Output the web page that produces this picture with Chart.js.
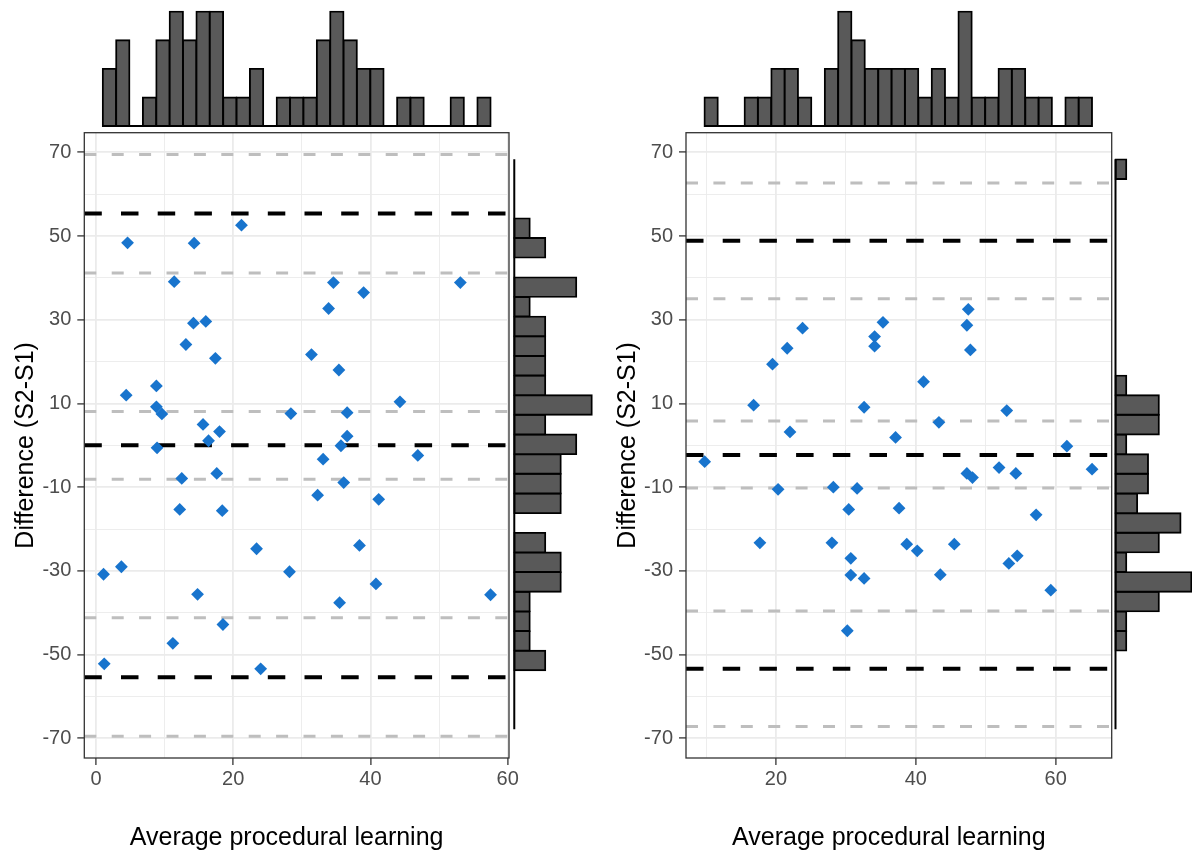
<!DOCTYPE html>
<html lang="en">
<head>
<meta charset="UTF-8">
<title>Bland-Altman: procedural learning</title>
<script src="https://cdn.jsdelivr.net/npm/chart.js"></script>
<style>
  html, body { margin: 0; padding: 0; background: #fff; overflow: hidden; }
  #wrap { position: relative; width: 1192px; height: 854px; }
  #wrap canvas { position: absolute; left: 0; top: 0; }
</style>
</head>
<body>
<div id="wrap">
  <canvas id="leftTop" width="1192" height="854"></canvas>
  <canvas id="leftSide" width="1192" height="854"></canvas>
  <canvas id="leftMain" width="1192" height="854"></canvas>
  <canvas id="rightTop" width="1192" height="854"></canvas>
  <canvas id="rightSide" width="1192" height="854"></canvas>
  <canvas id="rightMain" width="1192" height="854"></canvas>
</div>
<script>
// ---- left panel ----
const leftAvg = [4.6, 14.3, 21.2, 11.4, 14.2, 16.0, 13.1, 17.4, 4.4, 8.8, 8.8, 9.6, 15.6, 18.0, 16.4,
  8.9, 28.4, 31.4, 33.9, 34.6, 35.4, 36.6, 36.6, 35.7, 39.0, 53.1, 44.3, 33.1, 46.9, 36.1,
  32.3, 41.2, 38.4, 40.8, 35.5, 57.5, 12.5, 17.6, 12.2, 18.4, 23.4, 1.1, 3.7, 14.8, 28.2,
  18.5, 11.2, 1.2, 24.0];
const leftDiff = [48.4, 48.3, 52.6, 39.1, 29.2, 29.6, 24.1, 20.8, 12.0, 14.2, 9.2, 7.5, 5.0, 3.3, 1.1,
  -0.6, 7.6, 21.7, 32.7, 38.9, 18.0, 7.8, 2.2, -0.1, 36.5, 38.9, 10.4, -3.3, -2.4, -8.9,
  -11.9, -12.9, -23.9, -33.1, -37.6, -35.7, -7.9, -6.7, -15.3, -15.6, -24.7, -30.8, -29.0, -35.6, -30.2,
  -42.8, -47.3, -52.2, -53.4];
const leftBias = 0.0;
const leftLoA = [-55.4, 55.4];
const leftCI = [-69.5, -41.2, -8.1, 8.1, 41.2, 69.5];
const leftXCounts = [2, 3, 0, 1, 3, 4, 3, 4, 4, 1, 1, 2, 0, 1, 1, 1, 3, 4, 3, 2, 2, 0, 1, 1, 0, 0, 1, 0, 1];
const leftXEdges = [0.98, 57.52];
// y histogram counts, lowest bin first
const leftYCounts = [0, 0, 0, 2, 1, 1, 1, 3, 3, 2, 0, 3, 3, 3, 4, 2, 5, 2, 2, 2, 2, 1, 4, 0, 2, 1, 0, 0, 0];

// ---- right panel ----
const rightAvg = [9.8, 16.8, 17.7, 19.5, 20.3, 21.6, 22.0, 23.8, 28.0, 28.2, 30.2, 30.4, 30.7, 30.7, 31.6,
  32.6, 32.6, 34.1, 34.1, 35.3, 37.1, 37.6, 38.7, 40.2, 41.1, 43.3, 43.5, 45.5, 47.3, 47.3,
  47.5, 47.8, 48.1, 51.9, 53.0, 53.3, 54.3, 54.5, 57.2, 59.3, 61.6, 65.2];
const rightDiff = [-3.9, 9.6, -23.3, 19.4, -10.5, 23.2, 3.2, 28.0, -23.3, -10.0, -44.3, -15.3, -27.0, -31.0, -10.3,
  9.1, -31.8, 26.0, 23.7, 29.4, 1.9, -15.0, -23.6, -25.2, 15.2, 5.5, -30.9, -23.6, -6.7, 28.7,
  32.5, 22.8, -7.7, -5.3, 8.3, -28.2, -6.7, -26.4, -16.6, -34.6, -0.2, -5.7];
const rightBias = -2.3;
const rightLoA = [-53.4, 48.9];
const rightCI = [-67.2, -39.6, -10.2, 5.8, 35.0, 62.7];
const rightXCounts = [1, 0, 0, 1, 1, 2, 2, 1, 0, 2, 4, 3, 2, 2, 2, 2, 1, 2, 1, 4, 1, 1, 2, 2, 1, 1, 0, 1, 1];
const rightXEdges = [9.77, 65.2];
const rightYCounts = [0, 0, 0, 0, 1, 1, 4, 7, 1, 4, 6, 2, 3, 3, 1, 4, 4, 1, 0, 0, 0, 0, 0, 0, 0, 0, 0, 0, 1];

// ---- shared axes ----
const yHistEdges = [-67.85, 68.33];
const yRange = [-74.7, 74.7];
const yMajor = [-70, -50, -30, -10, 10, 30, 50, 70];
const yMinor = [-60, -40, -20, 0, 20, 40, 60];
const leftXMajor = [0, 20, 40, 60];
const rightXMajor = [20, 40, 60];
const xMinor = [10, 30, 50];

const FONT = '"Liberation Sans", Arial, sans-serif';
Chart.defaults.font.family = FONT;
Chart.defaults.animation = false;
Chart.defaults.responsive = false;
Chart.defaults.devicePixelRatio = 1;
Chart.defaults.events = [];
Chart.defaults.plugins.legend.display = false;
Chart.defaults.plugins.tooltip.enabled = false;

const W = 1192, H = 854;
const PANEL_TOP = 132.7, PANEL_BOTTOM = 758;
const Y_AXIS_W = 84.3;

// frame round the panel plus the x axis title
const panelFrame = {
  id: 'panelFrame',
  afterDraw(chart, args, opts) {
    const {ctx, chartArea: a} = chart;
    ctx.save();
    ctx.strokeStyle = '#333333';
    ctx.lineWidth = 1.3;
    ctx.strokeRect(a.left, a.top, a.right - a.left, a.bottom - a.top);
    ctx.fillStyle = '#000';
    ctx.font = '25px ' + FONT;
    ctx.textAlign = 'center';
    ctx.textBaseline = 'alphabetic';
    ctx.fillText(opts.xTitle, (a.left + a.right) / 2 - 10, 845);
    ctx.restore();
  }
};

function hline(v, xr, color, width, dash, order) {
  return {
    type: 'line',
    data: [{x: xr[0], y: v}, {x: xr[1], y: v}],
    borderColor: color,
    borderWidth: width,
    borderDash: dash,
    pointRadius: 0,
    fill: false,
    order: order
  };
}

function axisGrid(majors) {
  return {
    color: '#EBEBEB',
    lineWidth: c => majors.includes(c.tick.value) ? 1.8 : 0.9,
    tickLength: 7,
    tickWidth: 1.3,
    tickColor: c => majors.includes(c.tick.value) ? '#333333' : 'rgba(0,0,0,0)'
  };
}

function mainChart(id, p) {
  const xTicks = [...p.xMajor, ...xMinor].sort((a, b) => a - b);
  const yTicks = [...yMajor, ...yMinor].sort((a, b) => a - b);
  return new Chart(document.getElementById(id), {
    type: 'scatter',
    data: {
      datasets: [
        {
          data: p.avg.map((a, i) => ({x: a, y: p.diff[i]})),
          pointStyle: 'rectRot',
          pointRadius: 6.4,
          backgroundColor: '#1874CD',
          borderWidth: 0,
          order: 0
        },
        ...p.ci.map(v => hline(v, p.xRange, '#BEBEBE', 3, [12, 15.4], 2)),
        ...[p.bias, ...p.loa].map(v => hline(v, p.xRange, '#000000', 4, [17.5, 19.2], 1))
      ]
    },
    options: {
      layout: {padding: {left: p.left - Y_AXIS_W, top: PANEL_TOP, right: W - p.right, bottom: 0}},
      plugins: {panelFrame: {xTitle: 'Average procedural learning'}},
      scales: {
        x: {
          type: 'linear', min: p.xRange[0], max: p.xRange[1],
          afterBuildTicks: ax => { ax.ticks = xTicks.map(v => ({value: v})); },
          afterFit: ax => { ax.height = H - PANEL_BOTTOM; ax.paddingLeft = 0; ax.paddingRight = 0; },
          border: {display: false},
          grid: axisGrid(p.xMajor),
          ticks: {
            autoSkip: false, maxRotation: 0, padding: 2, color: '#4D4D4D', font: {size: 20},
            callback: v => p.xMajor.includes(v) ? String(v) : ''
          }
        },
        y: {
          type: 'linear', min: yRange[0], max: yRange[1],
          afterBuildTicks: ax => { ax.ticks = yTicks.map(v => ({value: v})); },
          afterFit: ax => { ax.width = Y_AXIS_W; ax.paddingTop = 0; ax.paddingBottom = 0; },
          border: {display: false},
          grid: axisGrid(yMajor),
          ticks: {
            autoSkip: false, padding: 6, color: '#4D4D4D', font: {size: 20},
            callback: v => yMajor.includes(v) ? String(v) : ''
          },
          title: {
            display: true, text: 'Difference (S2-S1)', color: '#000',
            font: {size: 25}, padding: {top: 11, bottom: 0}
          }
        }
      }
    },
    plugins: [panelFrame]
  });
}

function binCenters(edges, n) {
  const w = (edges[1] - edges[0]) / n;
  return Array.from({length: n}, (_, i) => edges[0] + (i + 0.5) * w);
}

// outline sits half outside each bin, so neighbours share one dividing line
const barStyle = {
  backgroundColor: '#595959',
  borderColor: '#000000',
  borderWidth: 1.9,
  inflateAmount: 0.9,
  borderSkipped: false,
  barPercentage: 1,
  categoryPercentage: 1,
  order: 1
};

// marginal histogram above a panel
function topHist(id, counts, edges, xRange, left, right) {
  const centers = binCenters(edges, counts.length);
  return new Chart(document.getElementById(id), {
    type: 'bar',
    data: {
      datasets: [
        {type: 'line', data: [{x: edges[0], y: 0}, {x: edges[1], y: 0}],
         borderColor: '#000', borderWidth: 2, pointRadius: 0, order: 0},
        {data: counts.map((c, i) => ({x: centers[i], y: c})), ...barStyle}
      ]
    },
    options: {
      layout: {padding: {left: left, right: W - right, top: 5.9, bottom: H - 131.7}},
      scales: {
        x: {type: 'linear', display: false, offset: false, min: xRange[0], max: xRange[1]},
        y: {type: 'linear', display: false, min: -0.2, max: 4.2}
      }
    }
  });
}

// marginal histogram to the right of a panel
function sideHist(id, counts, xRange, left, right) {
  const centers = binCenters(yHistEdges, counts.length);
  return new Chart(document.getElementById(id), {
    type: 'bar',
    data: {
      datasets: [
        {type: 'line', indexAxis: 'y', data: [{x: 0, y: yHistEdges[0]}, {x: 0, y: yHistEdges[1]}],
         borderColor: '#000', borderWidth: 2, pointRadius: 0, order: 0},
        {data: counts.map((c, i) => ({x: c, y: centers[i]})), ...barStyle}
      ]
    },
    options: {
      indexAxis: 'y',
      layout: {padding: {left: left, right: W - right, top: PANEL_TOP, bottom: H - PANEL_BOTTOM}},
      scales: {
        y: {type: 'linear', display: false, offset: false, min: yRange[0], max: yRange[1]},
        x: {type: 'linear', display: false, min: xRange[0], max: xRange[1]}
      }
    }
  });
}

const leftXRange = [-1.705, 60.19];
const rightXRange = [7.13, 68.01];

topHist('leftTop', leftXCounts, leftXEdges, leftXRange, 84.3, 509);
sideHist('leftSide', leftYCounts, [-0.25, 5.25], 510.4, 595.7);
mainChart('leftMain', {
  avg: leftAvg, diff: leftDiff, bias: leftBias, loa: leftLoA, ci: leftCI,
  xMajor: leftXMajor, xRange: leftXRange, left: 84.3, right: 509
});

topHist('rightTop', rightXCounts, rightXEdges, rightXRange, 686, 1111.7);
sideHist('rightSide', rightYCounts, [-0.35, 7.05], 1111.7, 1192);
mainChart('rightMain', {
  avg: rightAvg, diff: rightDiff, bias: rightBias, loa: rightLoA, ci: rightCI,
  xMajor: rightXMajor, xRange: rightXRange, left: 686, right: 1111.7
});
</script>
</body>
</html>
